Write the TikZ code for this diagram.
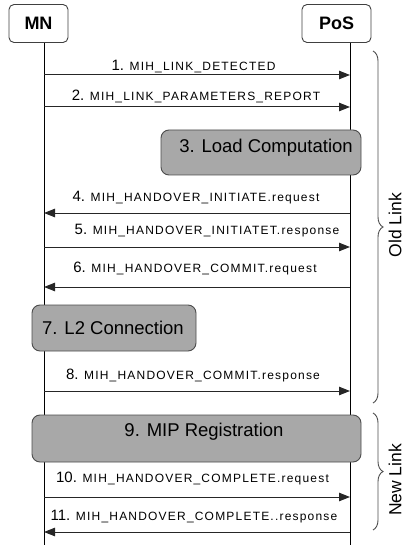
\documentclass[tikz,border=0pt]{standalone}
\usepackage{fontspec}
\setmainfont{Liberation Sans}
\newfontfamily\msgfont[LetterSpace=10]{Liberation Sans}
\usetikzlibrary{arrows.meta,decorations.pathreplacing}

\tikzset{
  entity/.style={draw=black!75, line width=0.9pt, rounded corners=5pt, fill=white,
    minimum width=58pt, minimum height=38pt, font=\fontsize{18}{18}\selectfont\bfseries, inner sep=0pt},
  lifeline/.style={draw=black, line width=1pt},
  msg/.style={draw=black!85, line width=1pt, -{Triangle[length=11pt,width=8.5pt]}},
  msglabel/.style={inner sep=0pt, anchor=center},
  procbox/.style={draw=black!70, line width=0.9pt, rounded corners=8pt, fill=black!34},
  proctext/.style={inner sep=0pt, font=\fontsize{18.5}{18.5}\selectfont},
  linkbrace/.style={draw=black!70, line width=0.9pt, decorate, decoration={brace, amplitude=10pt}},
  linktext/.style={inner sep=0pt, rotate=90, font=\fontsize{17.5}{17.5}\selectfont}
}
\newcommand{\msglab}[2]{{\fontsize{15}{15}\selectfont #1}{\msgfont\fontsize{12}{12}\selectfont #2}}

\begin{document}
\begin{tikzpicture}[x=1pt,y=-1pt]
\useasboundingbox (0,0) rectangle (406,545);

% participants
\node[entity, minimum width=59pt] (mn) at (38.5,23.5) {MN};
\node[entity, minimum width=69pt] (pos) at (336.5,23.5) {PoS};
\coordinate (mnend) at (44,545);
\coordinate (posend) at (350,545);
\draw[lifeline] (mn.south -| mnend) -- (mnend);
\draw[lifeline] (pos.south -| posend) -- (posend);

% message anchors on the two lifelines
\foreach \n/\y in {1/75, 2/107, 4/213, 5/247, 6/287, 8/391, 10/497, 11/532} {
  \coordinate (a\n) at (44,\y);
  \coordinate (b\n) at (350,\y);
}

\draw[msg] (a1) -- (b1);
\draw[msg] (a2) -- (b2);
\draw[msg] (b4) -- (a4);
\draw[msg] (a5) -- (b5);
\draw[msg] (b6) -- (a6);
\draw[msg] (a8) -- (b8);
\draw[msg] (a10) -- (b10);
\draw[msg] (b11) -- (a11);

\node[msglabel] (l1) at (193.5,67) {\msglab{1. }{MIH\_LINK\_DETECTED}};
\node[msglabel] (l2) at (196,96) {\msglab{2. }{MIH\_LINK\_PARAMETERS\_REPORT}};
\node[msglabel] (l4) at (196,198) {\msglab{4. }{MIH\_HANDOVER\_INITIATE.request}};
\node[msglabel] (l5) at (207,231) {\msglab{5. }{MIH\_HANDOVER\_INITIATET.response}};
\node[msglabel] (l6) at (195,269) {\msglab{6. }{MIH\_HANDOVER\_COMMIT.request}};
\node[msglabel] (l8) at (193,376) {\msglab{8. }{MIH\_HANDOVER\_COMMIT.response}};
\node[msglabel] (l10) at (192.5,479) {\msglab{10. }{MIH\_HANDOVER\_COMPLETE.request}};
\node[msglabel] (l11) at (194,517) {\msglab{11. }{MIH\_HANDOVER\_COMPLETE..response}};

% processing steps
\draw[procbox] (161,130) rectangle (361,175);
\node[proctext] (p3) at (266,148) {3. Load Computation};
\draw[procbox] (32,305) rectangle (196,351);
\node[proctext] (p7) at (113,328) {7. L2 Connection};
\draw[procbox] (32,415) rectangle (361,462);
\node[proctext] (p9) at (204,432) {9. MIP Registration};

% link phases
\coordinate (oldtop) at (373,51);
\coordinate (oldbot) at (373,403);
\coordinate (newtop) at (373,413);
\coordinate (newbot) at (373,530);
\draw[linkbrace] (oldtop) -- (oldbot);
\draw[linkbrace] (newtop) -- (newbot);
\node[linktext] (old) at (395,225) {Old Link};
\node[linktext] (new) at (395,480) {New Link};
\end{tikzpicture}
\end{document}
